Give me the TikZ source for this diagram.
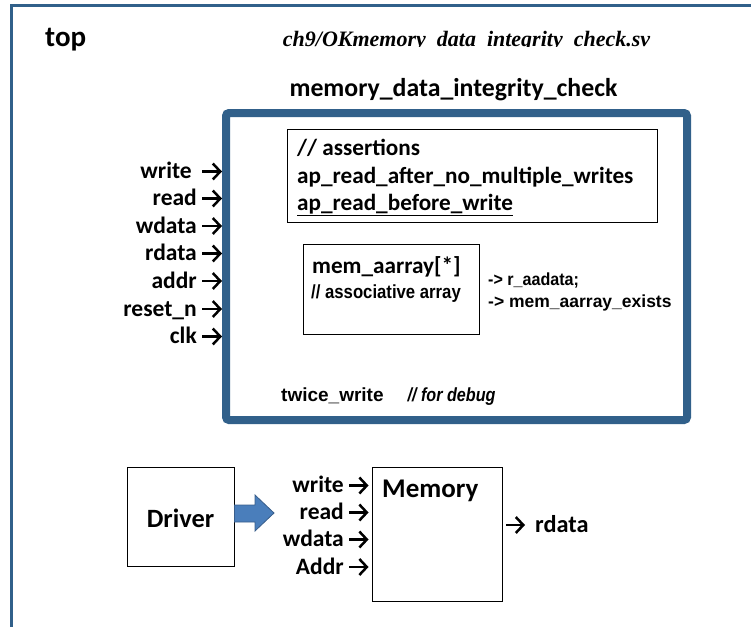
\documentclass[tikz,border=0pt]{standalone}
\usepackage{fontspec}
\setmainfont{Carlito}
\newfontfamily\arialf{Liberation Sans}
\newfontfamily\timesf{Liberation Serif}
\usetikzlibrary{arrows.meta}
\definecolor{frameblue}{RGB}{49,96,138}
\definecolor{arrowfill}{RGB}{74,126,187}
\definecolor{arrowedge}{RGB}{56,93,138}

\begin{document}
\begin{tikzpicture}[x=1pt,y=-1pt,
  lbl/.style={inner sep=0pt},
  % port label: its east anchor sits at the height of its arrow
  sig/.style={inner sep=0pt, anchor=east, text height=16pt, text depth=2pt,
    font=\bfseries\fontsize{23.5}{26}\selectfont},
  sigarrow/.style={-{Straight Barb[length=7.5pt,width=16pt]}, line width=2.5pt},
  thinbox/.style={draw, line width=0.9pt, inner sep=0pt},
  codetext/.style={lbl, anchor=base west, font=\bfseries\fontsize{23.2}{26}\selectfont},
  armtext/.style={lbl, anchor=base west, font=\arialf\bfseries\fontsize{17.5}{20}\selectfont},
]
\useasboundingbox (0,0) rectangle (751,626);

% outer frame of the top module (continues past the page edge)
\draw[frameblue, line width=3pt] (11,630) -- (11,6) -- (755,6);

\node[lbl, anchor=base west, font=\bfseries\fontsize{29}{32}\selectfont] (top) at (45,47) {top};

% file name, its lower edge cut off
\begin{scope}
  \clip (250,15) rectangle (700,46.8);
  \node[lbl, anchor=base, font=\timesf\bfseries\itshape\fontsize{22}{26}\selectfont] (fname) at (466.5,46) {ch9/OKmemory\_data\_integrity\_check.sv};
\end{scope}

% checker module
\node[lbl, anchor=base, font=\bfseries\fontsize{25.8}{30}\selectfont] (mtitle) at (453.5,96) {memory\_data\_integrity\_check};
\node[draw=frameblue, line width=8pt, rounded corners=3pt, minimum width=461pt, minimum height=307pt, inner sep=0pt] (mdic) at (456.5,266.5) {};

% input ports
\node[sig] (pwrite) at (197,171.5) {write\hspace*{5pt}};
\node[sig] (pread)  at (197,198.5) {read};
\node[sig] (pwdata) at (197,226) {wdata};
\node[sig] (prdata) at (197,253.5) {rdata};
\node[sig] (paddr)  at (197,281) {addr};
\node[sig] (preset) at (197,309) {reset\_n};
\node[sig] (pclk)   at (197,336.5) {clk};
\foreach \p in {pwrite,pread,pwdata,prdata,paddr,preset,pclk}
  \draw[sigarrow] ([xshift=5pt]\p.east) -- (\p.east -| mdic.west);

% assertions
\node[thinbox, minimum width=370pt, minimum height=93pt] (abox) at (472,175.5) {};
\node[codetext] (a1) at (297,155.5) {// assertions};
\node[codetext] (a2) at (297,183) {ap\_read\_after\_no\_multiple\_writes};
\node[codetext] (a3) at (297,210) {\underline{ap\_read\_before\_write}};

% associative array
\node[thinbox, minimum width=176pt, minimum height=90pt] (mbox) at (391,289) {};
\node[codetext] (m1) at (312,273) {mem\_aarray[*]};
\node[lbl, anchor=base west, font=\arialf\bfseries\fontsize{19}{22}\selectfont] (m2) at (311,298) {\scalebox{0.88}[1]{// associative array}};
\node[armtext] (r1) at (488,285.5) {\scalebox{0.92}[1]{-> r\_aadata;}};
\node[armtext] (r2) at (488,307.5) {-> mem\_aarray\_exists};

\node[lbl, anchor=base west, font=\arialf\bfseries\fontsize{19}{22}\selectfont] (tw) at (281,401) {twice\_write\hspace{24pt}\itshape\scalebox{0.85}[1]{// for debug}};

% driver and memory
\node[thinbox, minimum width=107pt, minimum height=99pt] (drv) at (180.5,516.5) {};
\node[lbl, anchor=base, font=\bfseries\fontsize{26.4}{30}\selectfont] (drvt) at (180.5,527) {Driver};
\draw[fill=arrowfill, draw=arrowedge, line width=0.8pt]
  (drv.east |- 0,505) -- (255,505) -- (255,495) -- (274,513) -- (255,531) -- (255,522) -- (drv.east |- 0,522) -- cycle;

\node[thinbox, minimum width=130pt, minimum height=134pt] (mem) at (437,534) {};
\node[lbl, anchor=base west, font=\bfseries\fontsize{27}{30}\selectfont] (memt) at (382,497) {Memory};

\node[sig] (qwrite) at (344,485.5) {write};
\node[sig] (qread)  at (344,512.5) {read};
\node[sig] (qwdata) at (344,539.5) {wdata};
\node[sig] (qaddr)  at (344,567) {Addr};
\foreach \p in {qwrite,qread,qwdata,qaddr}
  \draw[sigarrow] ([xshift=5pt]\p.east) -- ([xshift=-3pt]\p.east -| mem.west);

\node[lbl, anchor=base west, font=\bfseries\fontsize{24.3}{28}\selectfont] (qrdata) at (535,532.5) {rdata};
\draw[sigarrow] ([xshift=4pt]mem.east |- 0,525) -- ([xshift=-10pt]qrdata.west |- 0,525);
\end{tikzpicture}
\end{document}
